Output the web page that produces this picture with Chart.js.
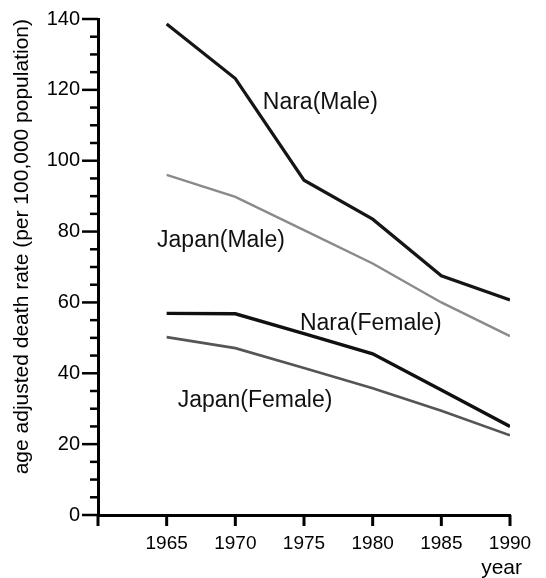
<!DOCTYPE html>
<html lang="en">
<head>
    <meta charset="UTF-8">
    <script src="https://cdn.jsdelivr.net/npm/chart.js"></script>
    <title>Age adjusted death rate</title>
    <style>
        html, body { margin: 0; padding: 0; background: #fff; }
        #wrap { width: 546px; height: 578px; }
    </style>
</head>
<body>
    <div id="wrap"><canvas id="rateChart"></canvas></div>

    <script>
        // values
        const years = [1965, 1970, 1975, 1980, 1985, 1990];
        const naraMale = [138.6, 123.2, 94.5, 83.5, 67.5, 60.7];
        const japanMale = [96, 89.8, 80.4, 71, 60, 50.5];
        const naraFemale = [56.9, 56.8, 51.2, 45.5, 35.3, 25];
        const japanFemale = [50.2, 47.1, 41.5, 35.8, 29.4, 22.5];

        // line names, written next to the lines (x = year, y = rate)
        const lineNames = ['Nara(Male)', 'Japan(Male)', 'Nara(Female)', 'Japan(Female)'];
        const nameYears = [1972.0, 1964.3, 1974.7, 1965.8];
        const nameRates = [116.3, 77.3, 53.9, 32.2];

        const font = "'Liberation Sans', Arial, Helvetica, sans-serif";

        function pts(vals) {
            return years.map((y, i) => ({ x: y, y: vals[i] }));
        }

        // tick marks: long ones every 20, short ones every 5
        const tickMarks = {
            id: 'tickMarks',
            afterDraw(chart) {
                const c = chart.ctx;
                const xs = chart.scales.x, ys = chart.scales.y;
                c.save();
                c.strokeStyle = '#000';
                c.lineWidth = 2.5;
                for (let v = 0; v <= 140; v += 5) {
                    const len = v % 20 === 0 ? 16 : 8;
                    const py = ys.getPixelForValue(v);
                    c.beginPath();
                    c.moveTo(xs.left - len, py);
                    c.lineTo(xs.left, py);
                    c.stroke();
                }
                c.lineWidth = 3;
                for (let yr = 1960; yr <= 1990; yr += 5) {
                    const px = xs.getPixelForValue(yr);
                    c.beginPath();
                    c.moveTo(px, ys.bottom);
                    c.lineTo(px, ys.bottom + 11);
                    c.stroke();
                }
                c.restore();
            }
        };

        const lineLabels = {
            id: 'lineLabels',
            afterDraw(chart) {
                const c = chart.ctx;
                const xs = chart.scales.x, ys = chart.scales.y;
                c.save();
                c.fillStyle = '#111';
                c.font = '23px ' + font;
                c.textAlign = 'left';
                c.textBaseline = 'middle';
                lineNames.forEach((name, i) => {
                    c.fillText(name, xs.getPixelForValue(nameYears[i]), ys.getPixelForValue(nameRates[i]));
                });
                // x axis title, hanging past the end of the axis
                c.fillStyle = '#000';
                c.font = '21px ' + font;
                c.textAlign = 'right';
                c.fillText('year', xs.right + 12, ys.bottom + 53);
                c.restore();
            }
        };

        const ctx = document.getElementById('rateChart').getContext('2d');
        new Chart(ctx, {
            type: 'line',
            data: {
                datasets: [
                    { label: 'Nara(Male)', data: pts(naraMale), borderColor: '#151515', borderWidth: 3.2 },
                    { label: 'Japan(Male)', data: pts(japanMale), borderColor: '#8a8a8a', borderWidth: 2.4 },
                    { label: 'Nara(Female)', data: pts(naraFemale), borderColor: '#101010', borderWidth: 3.4 },
                    { label: 'Japan(Female)', data: pts(japanFemale), borderColor: '#555', borderWidth: 2.6 }
                ]
            },
            options: {
                responsive: true,
                maintainAspectRatio: false,
                animation: false,
                layout: { padding: { top: 19, right: 36, left: 0, bottom: 0 } },
                elements: {
                    point: { radius: 0 },
                    line: { tension: 0, fill: false }
                },
                plugins: {
                    legend: { display: false },
                    tooltip: { enabled: false }
                },
                scales: {
                    x: {
                        type: 'linear',
                        min: 1960,
                        max: 1990,
                        afterFit: s => { s.height = 63; },
                        ticks: {
                            stepSize: 5,
                            color: '#000',
                            font: { family: font, size: 19 },
                            padding: 6,
                            maxRotation: 0,
                            callback: v => v === 1960 ? '' : String(v)
                        },
                        grid: { drawOnChartArea: false, tickLength: 11, tickColor: 'transparent' },
                        border: { color: '#000', width: 3 }
                    },
                    y: {
                        min: 0,
                        max: 140,
                        afterFit: s => { s.width = 98; },
                        ticks: {
                            stepSize: 5,
                            color: '#000',
                            font: { family: font, size: 20 },
                            padding: 2,
                            callback: v => v % 20 === 0 ? String(v) : ''
                        },
                        grid: { drawOnChartArea: false, tickLength: 16, tickColor: 'transparent' },
                        border: { color: '#000', width: 3 },
                        title: {
                            display: true,
                            text: 'age adjusted death rate (per 100,000 population)',
                            align: 'end',
                            color: '#000',
                            font: { family: font, size: 21 },
                            padding: { top: 10, bottom: 0 }
                        }
                    }
                }
            },
            plugins: [tickMarks, lineLabels]
        });
    </script>
</body>
</html>
